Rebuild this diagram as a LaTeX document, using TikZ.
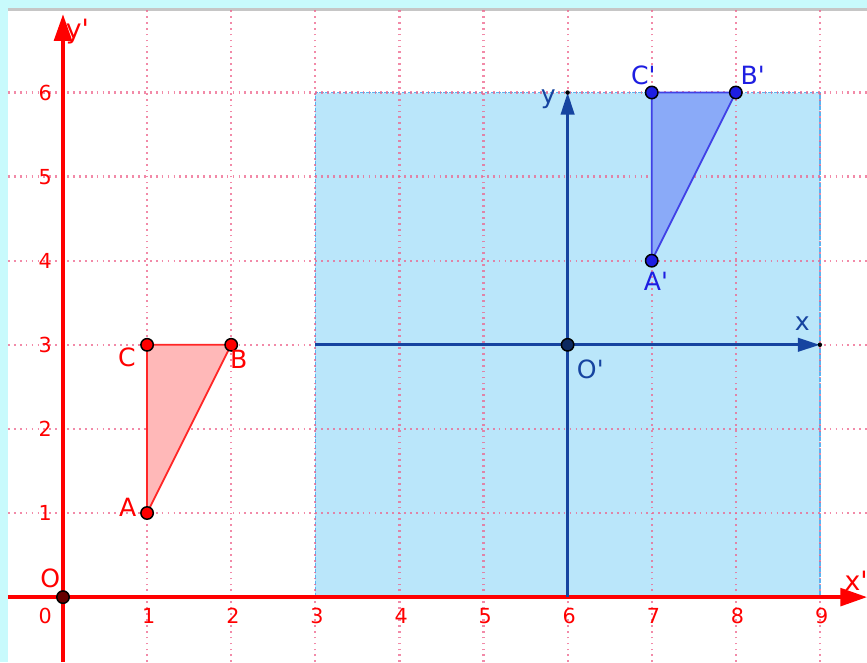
\documentclass[tikz,border=0pt]{standalone}
\usepackage{fontspec}
\setmainfont{DejaVu Sans}
\usetikzlibrary{arrows.meta}

\definecolor{ggred}{RGB}{255,0,0}
\definecolor{gridpink}{RGB}{238,100,140}
\definecolor{boxblue}{RGB}{186,230,250}
\definecolor{boxedge}{RGB}{90,180,240}
\definecolor{axisblue}{RGB}{22,68,160}
\definecolor{triblue}{RGB}{30,30,225}
\definecolor{trifill}{RGB}{138,170,248}
\definecolor{framecyan}{RGB}{200,250,252}

\newcommand{\pr}{\textquotesingle}

\begin{document}
\begin{tikzpicture}[
    gridline/.style={gridpink, opacity=0.75, line width=0.75pt, dash pattern=on 0.6pt off 1.4pt},
    redpt/.style={circle, draw=black, fill=ggred, line width=0.5pt, inner sep=0pt, minimum size=4.2pt},
    bluept/.style={circle, draw=black, fill=triblue, line width=0.5pt, inner sep=0pt, minimum size=4.2pt},
    tipdot/.style={circle, fill=black, inner sep=0pt, minimum size=1.5pt},
    redlbl/.style={ggred, inner sep=0pt, font=\fontsize{8.5}{9}\selectfont},
    bluelbl/.style={triblue, inner sep=0pt, font=\fontsize{8.5}{9}\selectfont},
    axlbl/.style={axisblue, inner sep=0pt, font=\fontsize{8.5}{9}\selectfont},
    ticklbl/.style={ggred, inner sep=0pt, font=\fontsize{7}{8}\selectfont}
]
    \useasboundingbox (-0.749,-0.773) rectangle (9.56,7.10);

    % Frame
    \fill[framecyan] (-0.749,-0.773) rectangle (9.56,7.10);
    \fill[white] (-0.654,-0.773) rectangle (9.56,6.985);
    \draw[gray!45, line width=1pt] (-0.654,6.985) -- (9.56,6.985);

    % Image rectangle
    \fill[boxblue] (3,0) rectangle (9,6);
    \draw[boxedge, line width=0.4pt, dash pattern=on 1.5pt off 0.5pt] (3,0) rectangle (9,6);

    % Grid
    \foreach \x in {1,...,9} {
        \draw[gridline] (\x,-0.773) -- (\x,6.985);
    }
    \foreach \y in {1,...,6} {
        \draw[gridline] (-0.654,\y) -- (9.56,\y);
    }

    % Axes x', y'
    \coordinate (xstart) at (-0.654,0);
    \coordinate (xend) at (9.56,0);
    \coordinate (ystart) at (0,-0.773);
    \coordinate (yend) at (0,6.93);
    \draw[ggred, line width=1.1pt, -{Triangle[length=9pt, width=6pt]}] (xstart) -- (xend);
    \draw[ggred, line width=1.1pt, -{Triangle[length=9pt, width=6pt]}] (ystart) -- (yend);
    \node[ggred, font=\fontsize{9}{10}\selectfont, inner sep=0pt] (lblxp) at (9.43,0.19) {x\pr};
    \node[ggred, font=\fontsize{9}{10}\selectfont, inner sep=0pt] (lblyp) at (0.17,6.73) {y\pr};

    % Ticks
    \foreach \x in {1,...,9} {
        \node[ticklbl] (tx\x) at (\x+0.02,-0.22) {\x};
    }
    \node[ticklbl] (tx0) at (-0.21,-0.22) {0};
    \foreach \y in {1,...,6} {
        \node[ticklbl] (ty\y) at (-0.21,\y) {\y};
    }

    % Axes x, y
    \coordinate (Xa) at (3,3);
    \coordinate (Xb) at (9,3);
    \coordinate (Ya) at (6,0);
    \coordinate (Yb) at (6,6);
    \draw[axisblue, line width=1.1pt, -{Triangle[length=7.5pt, width=4.5pt]}] (Xa) -- (Xb);
    \draw[axisblue, line width=1.1pt, -{Triangle[length=7.5pt, width=4.5pt]}] (Ya) -- (Yb);
    \node[tipdot] (tipx) at (Xb) {};
    \node[tipdot] (tipy) at (Yb) {};
    \node[axlbl] (lblx) at (8.79,3.25) {x};
    \node[axlbl] (lbly) at (5.77,5.92) {y};

    % Triangle ABC
    \coordinate (A) at (1,1);
    \coordinate (B) at (2,3);
    \coordinate (C) at (1,3);
    \filldraw[fill=ggred!28, draw=ggred!85, line width=0.6pt] (A) -- (B) -- (C) -- cycle;

    % Triangle A'B'C'
    \coordinate (A') at (7,4);
    \coordinate (B') at (8,6);
    \coordinate (C') at (7,6);
    \filldraw[fill=trifill, draw=triblue!85, line width=0.6pt] (A') -- (B') -- (C') -- cycle;

    % Points
    \node[redpt] (ptA) at (A) {};
    \node[redpt] (ptB) at (B) {};
    \node[redpt] (ptC) at (C) {};
    \node[circle, draw=black, fill=ggred!40!black, line width=0.5pt, inner sep=0pt, minimum size=4.2pt] (ptO) at (0,0) {};
    \node[bluept] (ptA') at (A') {};
    \node[bluept] (ptB') at (B') {};
    \node[bluept] (ptC') at (C') {};
    \node[circle, draw=black, fill=axisblue!60!black, line width=0.5pt, inner sep=0pt, minimum size=4.2pt] (ptO') at (6,3) {};

    % Labels
    \node[redlbl] (lblA) at (0.77,1.07) {A};
    \node[redlbl] (lblB) at (2.09,2.83) {B};
    \node[redlbl] (lblC) at (0.76,2.85) {C};
    \node[redlbl] (lblO) at (-0.15,0.22) {O};
    \node[bluelbl] (lblA') at (7.05,3.75) {A\pr};
    \node[bluelbl] (lblB') at (8.2,6.2) {B\pr};
    \node[bluelbl] (lblC') at (6.9,6.2) {C\pr};
    \node[axlbl] (lblO') at (6.27,2.71) {O\pr};
\end{tikzpicture}
\end{document}
